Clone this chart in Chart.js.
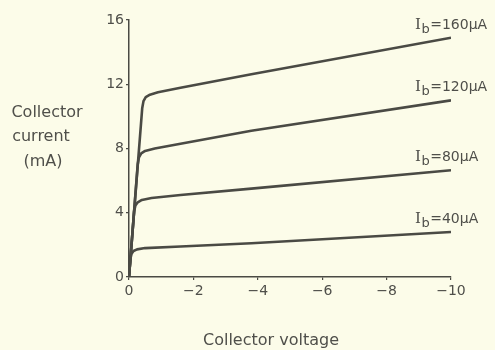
<!DOCTYPE html>
<html>
<head>
<meta charset="utf-8">
<script src="https://cdn.jsdelivr.net/npm/chart.js@4.4.1/dist/chart.umd.min.js"></script>
<style>
  html, body { margin: 0; padding: 0; background: #fcfce9; }
  #wrap { width: 495px; height: 350px; }
</style>
</head>
<body>
<div id="wrap"><canvas id="ceChart" width="495" height="350"></canvas></div>
<script>
// base current of each curve
const baseCurrents = ['160μA', '120μA', '80μA', '40μA'];

// collector voltage (V) and collector current (mA)
const voltage160 = [0, -0.41, -0.45, -0.52, -0.65, -0.9, -1.6, -3.8, -10];
const current160 = [0, 10.5, 10.95, 11.2, 11.35, 11.5, 11.78, 12.62, 14.9];

const voltage120 = [0, -0.27, -0.31, -0.38, -0.5, -0.8, -1.6, -3.8, -10];
const current120 = [0, 7.0, 7.45, 7.7, 7.85, 8.0, 8.3, 9.1, 11.0];

const voltage80 = [0, -0.16, -0.2, -0.27, -0.4, -0.7, -1.6, -3.8, -10];
const current80 = [0, 4.1, 4.45, 4.65, 4.8, 4.92, 5.1, 5.5, 6.65];

const voltage40 = [0, -0.04, -0.08, -0.14, -0.25, -0.5, -1.6, -3.8, -10];
const current40 = [0, 1.1, 1.45, 1.62, 1.72, 1.8, 1.9, 2.1, 2.8];

const xTicks = [0, -2, -4, -6, -8, -10];
const yTicks = [0, 4, 8, 12, 16];

const ink = '#4a4a44';
const textInk = '#4f4f4a';
const paper = '#fcfce9';
const sans = '"DejaVu Sans", sans-serif';

function toPoints(vs, is) {
    return vs.map((v, k) => ({ x: v, y: is[k] }));
}

const allVolts = [voltage160, voltage120, voltage80, voltage40];
const allCurrents = [current160, current120, current80, current40];

const datasets = baseCurrents.map((name, i) => ({
    label: 'Ib=' + name,
    data: toPoints(allVolts[i], allCurrents[i]),
    borderColor: ink,
    borderWidth: 2.6,
    borderJoinStyle: 'round',
    pointRadius: 0,
    fill: false,
    tension: 0
}));

// background, curve labels and axis titles
const annotate = {
    id: 'annotate',
    beforeDraw(chart) {
        const c = chart.ctx;
        c.save();
        c.fillStyle = paper;
        c.fillRect(0, 0, chart.width, chart.height);
        c.restore();
    },
    afterDraw(chart) {
        const c = chart.ctx;
        c.save();
        c.fillStyle = textInk;
        c.textBaseline = 'alphabetic';

        chart.data.datasets.forEach((ds, i) => {
            const pts = chart.getDatasetMeta(i).data;
            const end = pts[pts.length - 1];
            let x = end.x - 36;
            const y = end.y - 9;
            c.textAlign = 'left';
            c.font = '15px "DejaVu Serif", serif';
            c.fillText('I', x, y);
            x += c.measureText('I').width + 0.5;
            c.font = '13px ' + sans;
            c.fillText('b', x, y + 4);
            x += c.measureText('b').width + 0.5;
            c.font = '14px ' + sans;
            c.fillText('=' + baseCurrents[i], x, y);
        });

        c.font = '16px ' + sans;
        c.textAlign = 'center';
        c.textBaseline = 'middle';
        c.fillText('Collector', 47, 113);
        c.fillText('current', 41, 137);
        c.fillText('(mA)', 43, 162);
        c.fillText('Collector voltage', 271, 341);
        c.restore();
    }
};

new Chart(document.getElementById('ceChart'), {
    type: 'line',
    data: { datasets: datasets },
    options: {
        responsive: false,
        animation: false,
        layout: { padding: { left: 89, right: 44, top: 20, bottom: 48 } },
        plugins: {
            legend: { display: false },
            tooltip: { enabled: false }
        },
        scales: {
            x: {
                type: 'linear',
                min: -10,
                max: 0,
                reverse: true,
                afterFit(scale) { scale.height = 25; },
                afterBuildTicks(scale) { scale.ticks = xTicks.map(v => ({ value: v })); },
                grid: { drawOnChartArea: false, tickLength: 3, color: ink, lineWidth: 1.2 },
                border: { color: ink, width: 1.5 },
                ticks: {
                    color: textInk,
                    padding: 3,
                    font: { family: sans, size: 14 },
                    callback: v => v === 0 ? '0' : '\u2212' + Math.abs(v)
                }
            },
            y: {
                type: 'linear',
                min: 0,
                max: 16,
                afterFit(scale) { scale.width = 40; },
                afterBuildTicks(scale) { scale.ticks = yTicks.map(v => ({ value: v })); },
                grid: { drawOnChartArea: false, tickLength: 3, color: ink, lineWidth: 1.2 },
                border: { color: ink, width: 1.5 },
                ticks: {
                    color: textInk,
                    padding: 2,
                    font: { family: sans, size: 14 }
                }
            }
        }
    },
    plugins: [annotate]
});
</script>
</body>
</html>
